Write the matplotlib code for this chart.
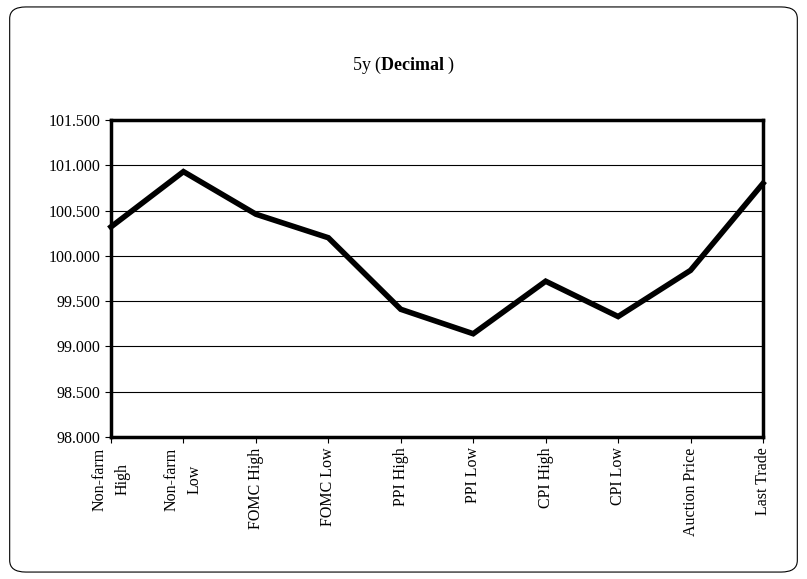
import matplotlib.pyplot as plt
from matplotlib.patches import FancyBboxPatch

labels = ['Non-farm\nHigh', 'Non-farm\nLow', 'FOMC High', 'FOMC Low', 'PPI High',
          'PPI Low', 'CPI High', 'CPI Low', 'Auction Price', 'Last Trade']
values = [100.32, 100.93, 100.46, 100.20, 99.41, 99.14, 99.72, 99.33, 99.84, 100.80]
yticks = [98.0, 98.5, 99.0, 99.5, 100.0, 100.5, 101.0, 101.5]

plt.rcParams['font.family'] = ['Liberation Serif', 'DejaVu Serif']
plt.rcParams['mathtext.fontset'] = 'custom'
plt.rcParams['mathtext.bf'] = 'Liberation Serif:bold'
plt.rcParams['mathtext.rm'] = 'Liberation Serif'

fig = plt.figure(figsize=(8.07, 5.79), dpi=100)
fig.patches.append(FancyBboxPatch((0.012, 0.012), 0.976, 0.976,
                                  boxstyle='round,pad=0,rounding_size=0.02',
                                  transform=fig.transFigure, fill=False,
                                  edgecolor='black', linewidth=0.8))

ax = fig.add_axes([111 / 807, 1 - 437 / 579, (763 - 111) / 807, (437 - 120) / 579])
x = list(range(len(values)))
ax.plot(x, values, color='black', linewidth=4, solid_joinstyle='miter', clip_on=False)
ax.set_xlim(0, 9)
ax.set_ylim(98.0, 101.5)
ax.set_yticks(yticks)
ax.set_yticklabels([f'{v:.3f}' for v in yticks], fontsize=11.5)
ax.yaxis.grid(True, color='black', linewidth=0.8)
ax.set_xticks(x)
ax.set_xticklabels(labels, rotation=90, fontsize=11.5, linespacing=1.6)
ax.tick_params(axis='both', direction='out', length=4)
for s in ax.spines.values():
    s.set_linewidth(2.5)

fig.text(0.5, 1 - 65 / 579, r'5y ($\mathbf{Decimal}$ )', ha='center', va='center', fontsize=13)

fig.savefig('out.png', dpi=100)
